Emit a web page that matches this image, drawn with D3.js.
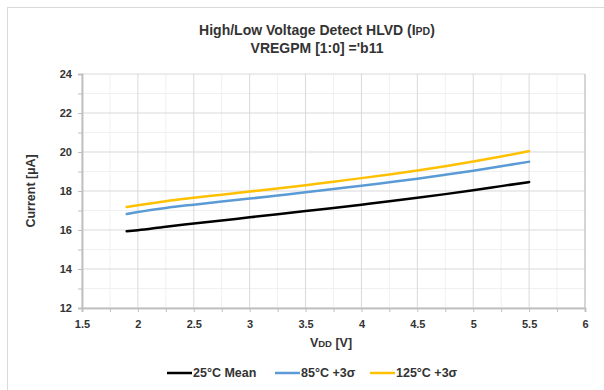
<!DOCTYPE html>
<html><head><meta charset="utf-8">
<script src="https://cdn.jsdelivr.net/npm/d3@7"></script>
<style>body{margin:0;background:#fff}svg{display:block}text{font-family:"Liberation Sans",Arial,sans-serif;font-weight:bold;fill:#333333}</style>
</head><body>
<svg id="c" width="604" height="390"></svg>
<script>
const vdd = [1.9, 2.0, 2.25, 2.5, 2.75, 3.0, 3.25, 3.5, 3.75, 4.0, 4.25, 4.5, 4.75, 5.0, 5.25, 5.5];
const mean25 = [15.93, 15.99, 16.17, 16.33, 16.49, 16.65, 16.81, 16.97, 17.13, 17.3, 17.47, 17.65, 17.84, 18.04, 18.25, 18.46];
const sig85 = [16.82, 16.92, 17.13, 17.3, 17.46, 17.61, 17.77, 17.93, 18.1, 18.27, 18.45, 18.63, 18.83, 19.04, 19.27, 19.5];
const sig125 = [17.18, 17.27, 17.48, 17.65, 17.81, 17.97, 18.13, 18.3, 18.48, 18.66, 18.85, 19.05, 19.27, 19.51, 19.77, 20.04];
const xTicks = [1.5, 2, 2.5, 3, 3.5, 4, 4.5, 5, 5.5, 6];
const yTicks = [12, 14, 16, 18, 20, 22, 24];
const xMinor = [1.75, 2.25, 2.75, 3.25, 3.75, 4.25, 4.75, 5.25, 5.75];
const yMinor = [13, 15, 17, 19, 21, 23];
const seriesNames = ["25°C Mean", "85°C +3σ", "125°C +3σ"];
const seriesColors = ["#000000", "#5b9bd5", "#ffc000"];
const seriesData = [mean25, sig85, sig125];

const svg = d3.select("#c");
svg.append("rect").attr("x", 7.5).attr("y", 7.5).attr("width", 620).attr("height", 400)
  .attr("fill", "none").attr("stroke", "#d9d9d9");

const L = 82, R = 585, T = 74, B = 308;
const x = d3.scaleLinear().domain([1.5, 6]).range([L, R]);
const y = d3.scaleLinear().domain([12, 24]).range([B, T]);

const g = svg.append("g");
g.selectAll(".mx").data(xMinor).join("line")
  .attr("x1", d => x(d)).attr("x2", d => x(d)).attr("y1", T).attr("y2", B)
  .attr("stroke", "#f0f0f0").attr("stroke-width", 1);
g.selectAll(".my").data(yMinor).join("line")
  .attr("y1", d => y(d)).attr("y2", d => y(d)).attr("x1", L).attr("x2", R)
  .attr("stroke", "#f0f0f0").attr("stroke-width", 1);
g.append("g").selectAll("line").data(xTicks).join("line")
  .attr("x1", d => x(d)).attr("x2", d => x(d)).attr("y1", T).attr("y2", B)
  .attr("stroke", "#d9d9d9").attr("stroke-width", 1);
g.append("g").selectAll("line").data(yTicks).join("line")
  .attr("y1", d => y(d)).attr("y2", d => y(d)).attr("x1", L).attr("x2", R)
  .attr("stroke", "#d9d9d9").attr("stroke-width", 1);

const yAxis = d3.axisLeft(y).tickValues(yTicks).tickSize(4).tickPadding(6).tickFormat(d3.format("d"));
const ya = svg.append("g").attr("transform", `translate(${L},0)`).call(yAxis);
const yMinAx = svg.append("g").attr("transform", `translate(${L},0)`).call(d3.axisLeft(y).tickValues(yMinor).tickSize(4).tickFormat(""));
const xAxis = d3.axisBottom(x).tickValues(xTicks).tickSize(4).tickPadding(8).tickFormat(d => String(d));
const xa = svg.append("g").attr("transform", `translate(0,${B})`).call(xAxis);
const xMinAx = svg.append("g").attr("transform", `translate(0,${B})`).call(d3.axisBottom(x).tickValues(xMinor).tickSize(4).tickFormat(""));
[ya, xa, yMinAx, xMinAx].forEach(a => {
  a.select(".domain").attr("stroke", "#bfbfbf").attr("stroke-width", 1.5);
  a.selectAll(".tick line").attr("stroke", "#bfbfbf");
  a.selectAll("text").attr("font-size", 11).attr("font-weight", "bold").attr("fill", "#333333")
    .attr("font-family", '"Liberation Sans",Arial,sans-serif');
});
svg.append("line").attr("x1", R).attr("x2", R).attr("y1", T).attr("y2", B).attr("stroke", "#bfbfbf");

const line = d3.line().x((d, i) => x(vdd[i])).y(d => y(d)).curve(d3.curveMonotoneX);
seriesData.forEach((s, k) => {
  svg.append("path").datum(s).attr("d", line).attr("fill", "none")
    .attr("stroke", seriesColors[k]).attr("stroke-width", 2.5).attr("stroke-linecap", "round");
});

const t1 = svg.append("text").attr("x", 317).attr("y", 35).attr("text-anchor", "middle").attr("font-size", 14);
t1.append("tspan").text("High/Low Voltage Detect HLVD (I");
t1.append("tspan").attr("font-size", 10.5).text("PD");
t1.append("tspan").text(")");
svg.append("text").attr("x", 317).attr("y", 53).attr("text-anchor", "middle").attr("font-size", 14)
  .text("VREGPM [1:0] ='b11");

svg.append("text").attr("transform", "translate(35,191) rotate(-90)").attr("text-anchor", "middle")
  .attr("font-size", 12.5).text("Current [µA]");
const xt = svg.append("text").attr("x", 331).attr("y", 347).attr("text-anchor", "middle").attr("font-size", 12.5);
xt.append("tspan").text("V");
xt.append("tspan").attr("font-size", 9.5).text("DD");
xt.append("tspan").text(" [V]");

const legX = [167, 275, 370];
seriesNames.forEach((n, k) => {
  svg.append("line").attr("x1", legX[k]).attr("x2", legX[k] + 25).attr("y1", 373).attr("y2", 373)
    .attr("stroke", seriesColors[k]).attr("stroke-width", 2.5);
  svg.append("text").attr("x", legX[k] + 26).attr("y", 377).attr("font-size", 12.5).text(n);
});
</script>
</body></html>
